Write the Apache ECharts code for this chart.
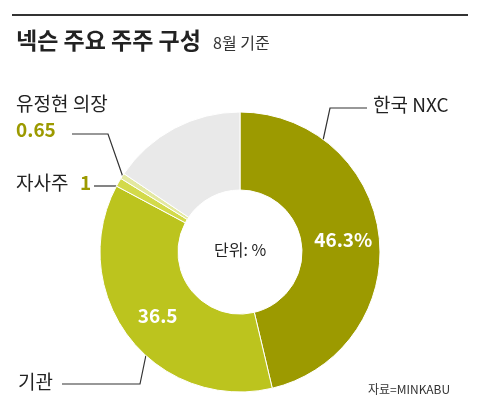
<!DOCTYPE html><html><head><meta charset="utf-8"><script src="https://cdn.jsdelivr.net/npm/echarts@6/dist/echarts.min.js"></script>
<style>body{margin:0}#c{width:480px;height:420px}</style></head><body><div id="c"></div><script>
const names=['한국 NXC','기관','자사주','유정현 의장','기타'];
const values=[46.3,36.5,1,0.65,15.55];
const colors=['#9c9a00','#bcc41e','#d3da4a','#e3e8a0','#e9e9e9'];
const insideLabels=['46.3%','36.5','','',''];
const F='"Noto Sans CJK KR"';
const chart=echarts.init(document.getElementById('c'));
chart.setOption({
 animation:false,
 graphic:[
  {type:'rect',shape:{x:12,y:14,width:456,height:2},style:{fill:'#333'}},
  {type:'text',left:16,top:29,style:{text:'넥슨 주요 주주 구성',font:'bold 23px '+F,fill:'#222'}},
  {type:'text',left:213,top:35,style:{text:'8월 기준',font:'16px '+F,fill:'#333'}},
  {type:'text',left:214,top:242,style:{text:'단위: %',font:'16px '+F,fill:'#222'}},
  {type:'text',left:373,top:95,style:{text:'한국 NXC',font:'19px '+F,fill:'#222'}},
  {type:'polyline',shape:{points:[[367,108],[330,108],[322,145]]},style:{stroke:'#333',lineWidth:1.2}},
  {type:'text',left:16,top:94,style:{text:'유정현 의장',font:'19px '+F,fill:'#222'}},
  {type:'text',left:16,top:120,style:{text:'0.65',font:'bold 19px '+F,fill:'#9c9a00'}},
  {type:'polyline',shape:{points:[[72,134],[108,134],[124,180]]},style:{stroke:'#333',lineWidth:1.2}},
  {type:'text',left:16,top:173,style:{text:'자사주',font:'19px '+F,fill:'#222'}},
  {type:'text',left:80,top:173,style:{text:'1',font:'bold 19px '+F,fill:'#9c9a00'}},
  {type:'polyline',shape:{points:[[94,186],[118,186]]},style:{stroke:'#333',lineWidth:1.2}},
  {type:'text',left:18,top:372,style:{text:'기관',font:'19px '+F,fill:'#222'}},
  {type:'polyline',shape:{points:[[62,384],[140,384],[146,355]]},style:{stroke:'#333',lineWidth:1.2}},
  {type:'text',left:368,top:383,style:{text:'자료=MINKABU',font:'12px '+F,fill:'#333'}}
 ],
 series:[{type:'pie',center:[240,252],radius:[62,140],startAngle:90,clockwise:true,
  itemStyle:{borderColor:'#fff',borderWidth:1},
  label:{position:'inside',formatter:p=>insideLabels[p.dataIndex],color:'#fff',fontSize:19,fontWeight:'bold',fontFamily:F},
  labelLine:{show:false},
  data:names.map((n,i)=>({name:n,value:values[i],itemStyle:{color:colors[i]}}))}]
});
</script></body></html>
